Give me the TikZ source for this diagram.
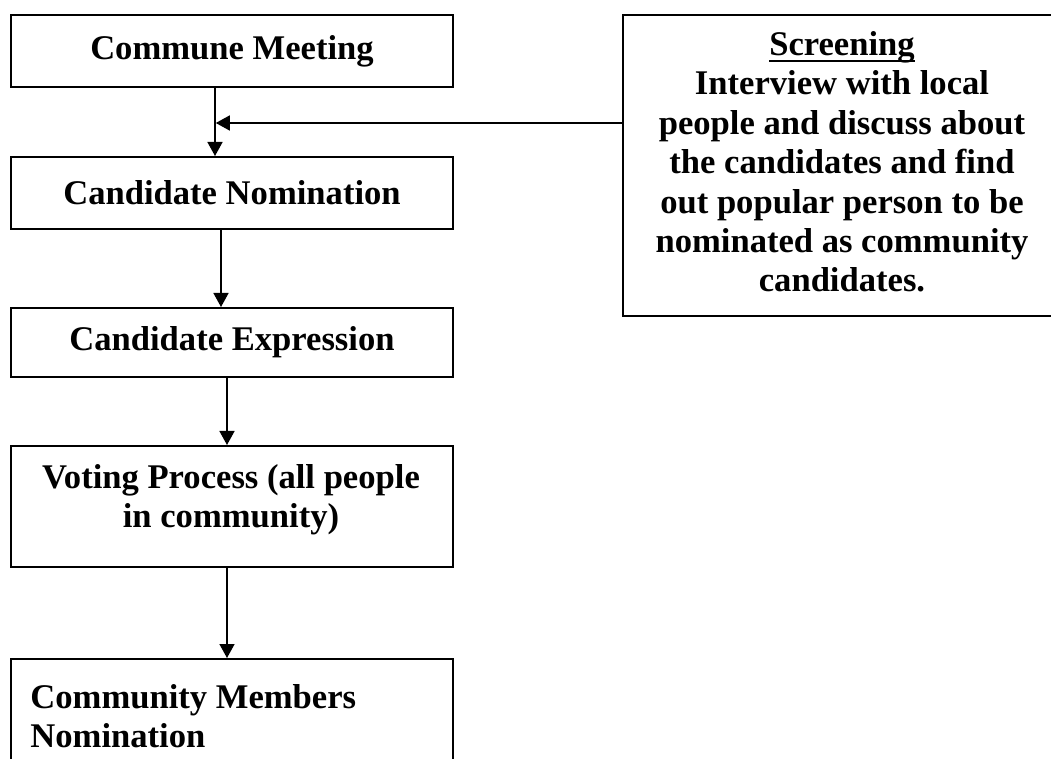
\documentclass[tikz,border=0pt]{standalone}
\usepackage{fontspec}
\setmainfont{Liberation Serif}
\usetikzlibrary{arrows.meta}
\newcommand\thickul[1]{\setbox0\hbox{#1}\rlap{\rule[-3.2pt]{\wd0}{1pt}}\box0}
\tikzset{
  box/.style={draw=black, line width=1pt, rectangle, inner sep=0pt, anchor=north west},
  txt/.style={font=\fontsize{17.3pt}{19.7pt}\selectfont\bfseries, inner sep=0pt},
  arr/.style={line width=0.75pt, -{Triangle[length=7pt,width=7.5pt]}},
}
\begin{document}
\begin{tikzpicture}[x=0.5pt,y=-0.5pt]
\clip (0,0) rectangle (1051,759);
% left column boxes
\node[box, minimum width=221pt, minimum height=36pt] (B1) at (10,14) {};
\node[txt] (B1t) at (B1.center) {Commune Meeting};
\node[box, minimum width=221pt, minimum height=36pt] (B2) at (10,156) {};
\node[txt] (B2t) at (B2.center) {Candidate Nomination};
\node[box, minimum width=221pt, minimum height=34.5pt] (B3) at (10,307) {};
\node[txt] (B3t) at (B3.center) {Candidate Expression};
\node[box, minimum width=221pt, minimum height=60.5pt] (B4) at (10,445) {};
\node[txt, align=center, anchor=north] (B4t) at (231,464) {Voting Process (all people\\in community)};
\node[box, minimum width=221pt, minimum height=75pt] (B5) at (10,658) {};
\node[txt, align=left, anchor=north west] (B5t) at (30,684) {Community Members\\Nomination};
% screening box
\node[box, minimum width=220pt, minimum height=150.5pt] (S) at (622,14) {};
\node[txt, align=center, anchor=north] (St) at (842,31) {\thickul{Screening}\\Interview with local\\people and discuss about\\the candidates and find\\out popular person to be\\nominated as community\\candidates.};
% connectors
\coordinate (J) at (214,123);
\draw[arr] ([xshift=-8.5pt]B1.south) -- ([xshift=-8.5pt]B2.north);
\draw[arr] (S.west |- J) -- ([xshift=0.9pt]J);
\draw[arr] ([xshift=-5.5pt]B2.south) -- ([xshift=-5.5pt]B3.north);
\draw[arr] ([xshift=-2.5pt]B3.south) -- ([xshift=-2.5pt]B4.north);
\draw[arr] ([xshift=-2.5pt]B4.south) -- ([xshift=-2.5pt]B5.north);
\end{tikzpicture}
\end{document}
